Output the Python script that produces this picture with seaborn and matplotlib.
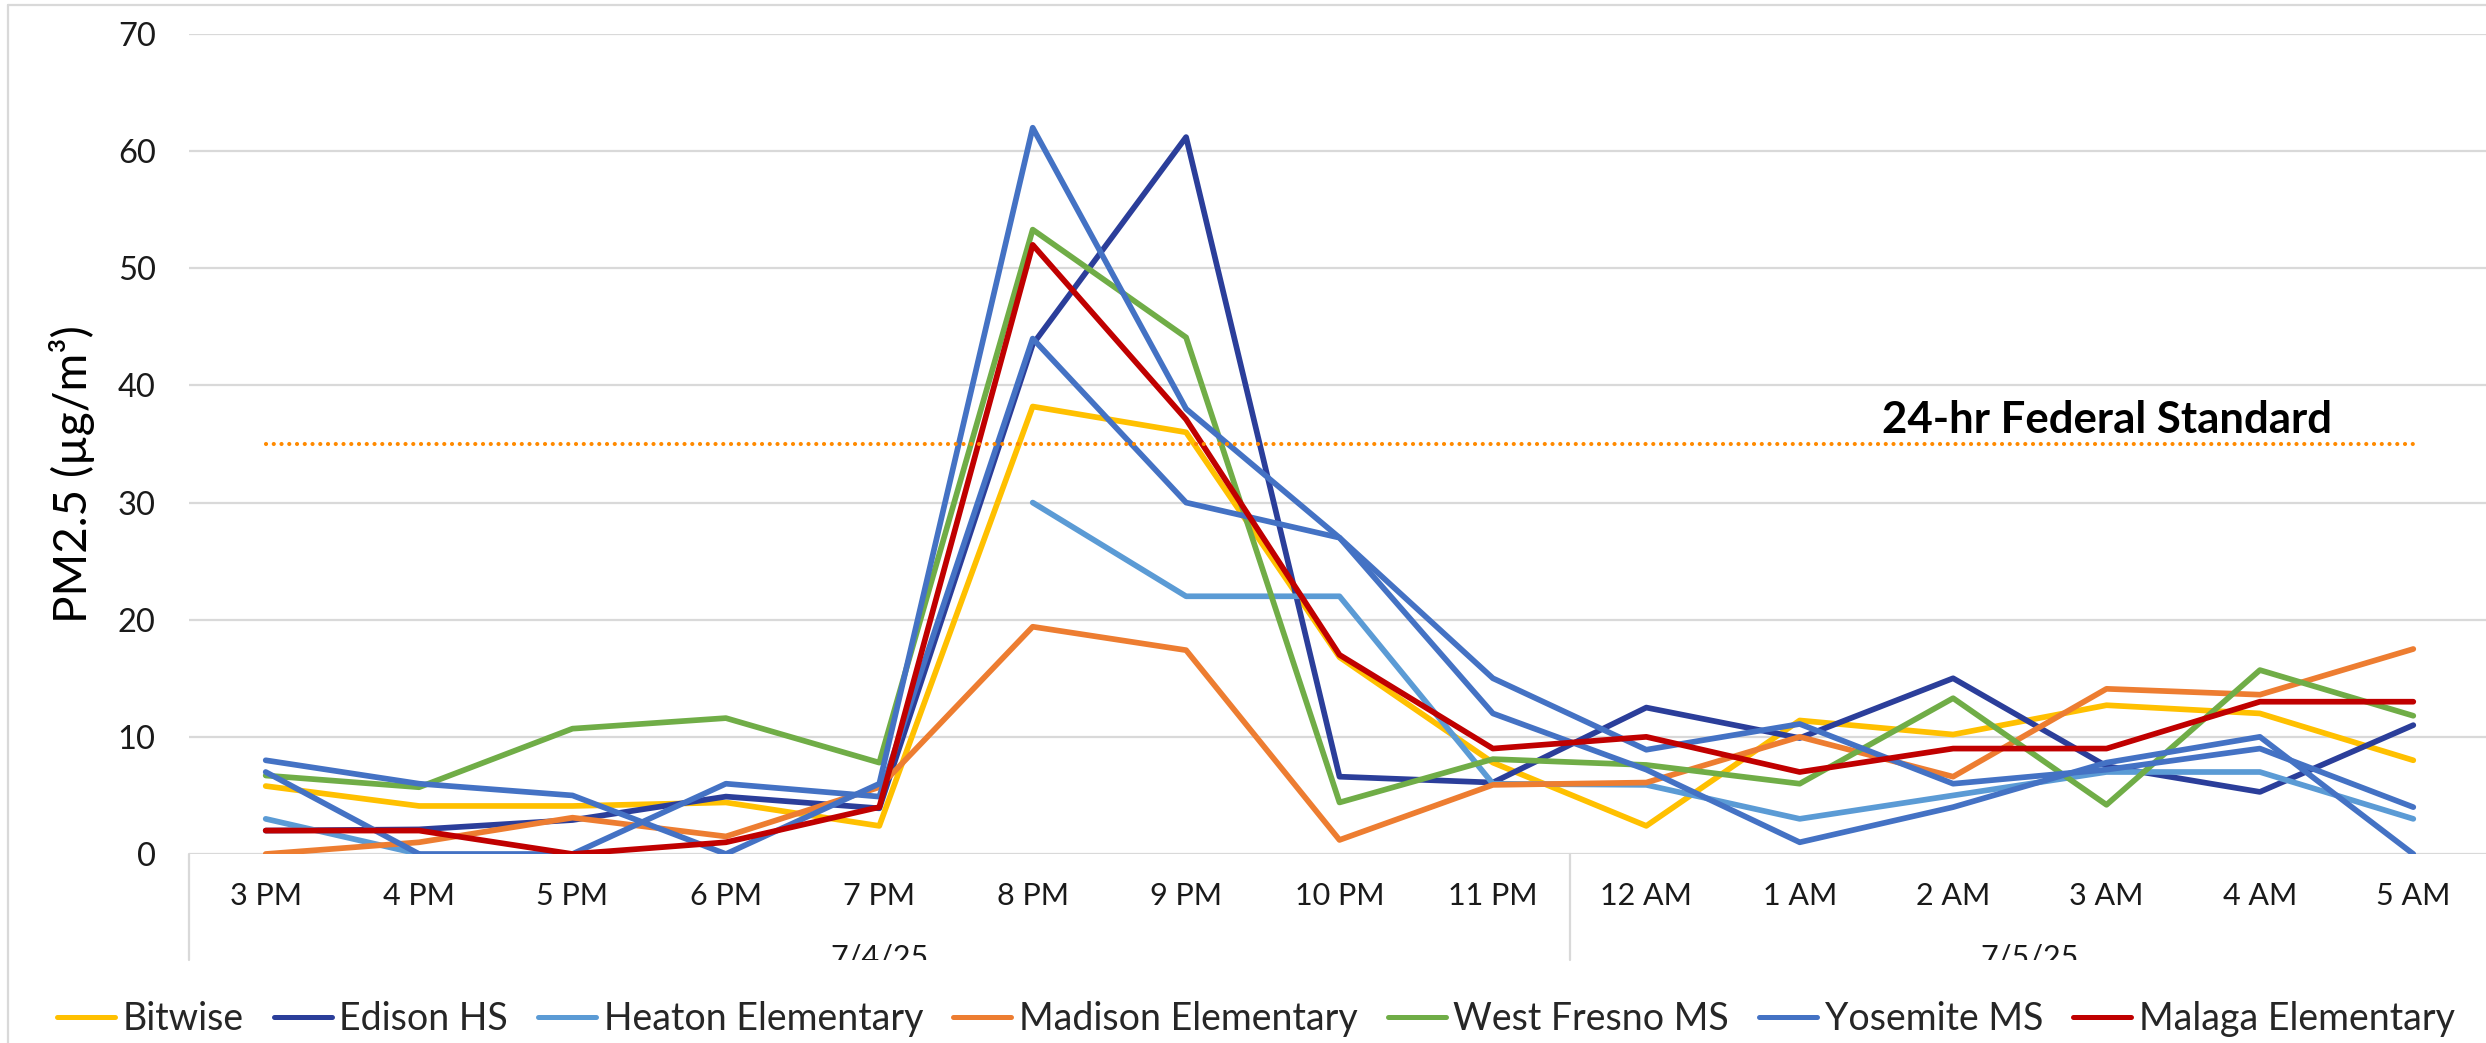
import numpy as np
import pandas as pd
import matplotlib
matplotlib.use("Agg")
import matplotlib.pyplot as plt
import seaborn as sns
from matplotlib.lines import Line2D
from matplotlib.transforms import Bbox, TransformedBbox, blended_transform_factory

# ---------------- data ----------------
hours = ["3 PM", "4 PM", "5 PM", "6 PM", "7 PM", "8 PM", "9 PM", "10 PM", "11 PM",
         "12 AM", "1 AM", "2 AM", "3 AM", "4 AM", "5 AM"]
dates = ["7/4/25", "7/5/25"]
date_first = [0, 9]
date_last = [8, 14]

bitwise = [5.8, 4.1, 4.1, 4.4, 2.4, 38.2, 36.0, 16.8, 7.8, 2.4, 11.4, 10.2, 12.7, 12.0, 8.0]
edison_hs = [2.0, 2.1, 2.9, 4.9, 3.9, 43.5, 61.2, 6.6, 6.1, 12.5, 9.9, 15.0, 7.5, 5.3, 11.0]
heaton_elem = [3.0, 0.0, np.nan, np.nan, np.nan, 30.0, 22.0, 22.0, 6.0, 5.9, 3.0, 5.0, 7.0, 7.0, 3.0]
madison_elem = [0.0, 1.0, 3.1, 1.5, 5.7, 19.4, 17.4, 1.2, 5.9, 6.1, 10.0, 6.6, 14.1, 13.6, 17.5]
west_fresno_ms = [6.7, 5.7, 10.7, 11.6, 7.8, 53.3, 44.1, 4.4, 8.1, 7.6, 6.0, 13.3, 4.2, 15.7, 11.8]
yosemite_ms = [8.0, 6.0, 5.0, 0.0, 6.0, 62.0, 38.0, 27.0, 15.0, 8.9, 11.1, 6.0, 7.2, 9.0, 4.0]
unlabeled_site = [7.0, 0.0, 0.0, 6.0, 4.9, 44.0, 30.0, 27.0, 12.0, 7.2, 1.0, 4.0, 7.8, 10.0, 0.0]
malaga_elem = [2.0, 2.0, 0.0, 1.0, 4.0, 52.0, 37.1, 17.0, 9.0, 10.0, 7.0, 9.0, 9.0, 13.0, 13.0]
federal_standard = [35] * 15

legend_names = ["Bitwise", "Edison HS", "Heaton Elementary", "Madison Elementary",
                "West Fresno MS", "Yosemite MS", "Malaga Elementary"]
colors = {
    "Bitwise": "#FFC000",
    "Edison HS": "#2B3E9A",
    "Heaton Elementary": "#5B9BD5",
    "Madison Elementary": "#ED7D31",
    "West Fresno MS": "#70AD47",
    "Yosemite MS": "#4472C4",
    "Unlabeled site": "#4472C4",
    "Malaga Elementary": "#C00000",
}
series = {
    "Bitwise": bitwise,
    "Edison HS": edison_hs,
    "Heaton Elementary": heaton_elem,
    "Madison Elementary": madison_elem,
    "West Fresno MS": west_fresno_ms,
    "Unlabeled site": unlabeled_site,
    "Yosemite MS": yosemite_ms,
    "Malaga Elementary": malaga_elem,
}

rows = []
for name, vals in series.items():
    seg = 0
    for i, v in enumerate(vals):
        if v is None or (isinstance(v, float) and np.isnan(v)):
            seg += 1
            continue
        rows.append({"site": name, "hour": i, "pm": v, "seg": seg})
df = pd.DataFrame(rows)

# ---------------- style ----------------
sns.set_theme(style="white")
FONT = ["Lato", "DejaVu Sans"]
plt.rcParams["font.family"] = FONT

W, H = 2486, 1043
fig = plt.figure(figsize=(W / 100, H / 100), dpi=100)
fig.patch.set_facecolor("white")

ax_left, ax_right = 189 / W, 2490 / W
ax_bottom, ax_top = 1 - 854 / H, 1 - 34 / H
ax = fig.add_axes([ax_left, ax_bottom, ax_right - ax_left, ax_top - ax_bottom])

sns.lineplot(data=df, x="hour", y="pm", hue="site", hue_order=list(series.keys()),
             palette=colors, units="seg", estimator=None, sort=False,
             linewidth=4.1, legend=False, ax=ax,
             solid_capstyle="round", solid_joinstyle="round")

std_df = pd.DataFrame({"hour": range(len(hours)), "pm": federal_standard})
sns.lineplot(data=std_df, x="hour", y="pm", color="#FF8A00", linewidth=3.0,
             legend=False, ax=ax, zorder=6)
std_line = ax.lines[-1]
std_line.set_dashes([0.01, 1.85])
std_line.set_dash_capstyle("round")

ax.text(12, 35.9, "24-hr Federal Standard", ha="center", va="baseline",
        fontsize=31.5, fontweight="bold", color="black", zorder=7)

ax.set_xlim(-0.5, 14.5)
ax.set_ylim(0, 70)
ax.set_yticks(range(0, 71, 10))
ax.set_xticks(range(len(hours)))
ax.set_xticklabels(hours, fontsize=22, color="#1a1a1a")
ax.tick_params(axis="y", labelsize=23.5, labelcolor="#1a1a1a", length=0, pad=24)
ax.tick_params(axis="x", length=0, pad=20)
ax.set_xlabel("")
ax.set_ylabel("")
ax.yaxis.grid(True, color="#D9D9D9", linewidth=1.6)
ax.xaxis.grid(False)
ax.set_axisbelow(True)
for s in ax.spines.values():
    s.set_visible(False)

# category separators
trans = blended_transform_factory(ax.transData, ax.transAxes)
for xv in [-0.5, 8.5, 14.5]:
    ax.add_line(Line2D([xv, xv], [0, -106 / 820], transform=trans, clip_on=False,
                       color="#D9D9D9", linewidth=1.6))

clip = TransformedBbox(Bbox([[0, 1 - 960 / H], [1, 1]]), fig.transFigure)
for lab, a, b in zip(dates, date_first, date_last):
    t = ax.text((a + b) / 2, -(944 - 854) / 820, lab, transform=trans, ha="center",
                va="top", fontsize=22, color="#1a1a1a")
    t.set_clip_box(clip)
    t.set_clip_on(True)

# y label
fig.text(72 / W, 1 - 474 / H, "PM2.5 (µg/m³)", rotation=90, ha="center", va="center",
         fontsize=33, color="black")

# outer chart border
fig.add_artist(Line2D([8 / W, 8 / W], [0, 1 - 5 / H], transform=fig.transFigure,
                      color="#D9D9D9", linewidth=1.6))
fig.add_artist(Line2D([8 / W, 1], [1 - 5 / H, 1 - 5 / H], transform=fig.transFigure,
                      color="#D9D9D9", linewidth=1.6))

# legend
handles = [Line2D([0], [0], color=colors[n], linewidth=3.6, solid_capstyle="round")
           for n in legend_names]
fig.legend(handles, legend_names, loc="center left", bbox_to_anchor=(57 / W, 1 - 1019 / H),
           ncol=7, frameon=False, fontsize=27, handlelength=1.55, handletextpad=0.2,
           columnspacing=0.8, borderpad=0, borderaxespad=0)

fig.savefig("out.png", dpi=100, facecolor="white")
